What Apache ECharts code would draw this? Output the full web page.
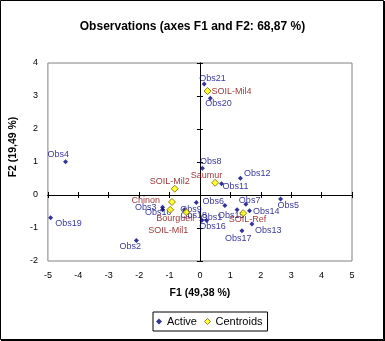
<!DOCTYPE html>
<html>
<head>
<meta charset="utf-8">
<script src="https://cdn.jsdelivr.net/npm/echarts@6/dist/echarts.min.js"></script>
<style>
  html, body { margin: 0; padding: 0; background: #fff; }
  #chart { width: 385px; height: 341px; }
</style>
</head>
<body>
<div id="chart"></div>
<script>
// Observation scores on the first two factors
const activeNames = ['Obs1','Obs2','Obs3','Obs4','Obs5','Obs6','Obs7','Obs8','Obs9','Obs10','Obs11',
                     'Obs12','Obs13','Obs14','Obs15','Obs16','Obs17','Obs18','Obs19','Obs20','Obs21'];
const activeF1 = [0.22,-2.09,-1.23,-4.42,2.65,0.82,1.51,0.08,-0.12,-1.23,0.71,
                  1.33,1.71,1.63,1.22,0.06,1.38,-0.51,-4.91,0.34,0.14];
const activeF2 = [-0.77,-1.38,-0.37,1.01,-0.12,-0.32,-0.28,0.81,-0.23,-0.45,0.34,
                  0.51,-0.88,-0.48,-0.45,-0.77,-1.08,-0.45,-0.69,2.93,3.36];

// Group centroids
const centroidNames = ['Saumur','Chinon','Bourgueil','SOIL-Mil1','SOIL-Mil2','SOIL-Mil4','SOIL-Ref'];
const centroidF1 = [0.50,-0.92,-0.98,-0.45,-0.83,0.25,1.42];
const centroidF2 = [0.37,-0.21,-0.45,-0.52,0.19,3.15,-0.55];

// Axis ranges
const f1Range = [-5, 5];
const f2Range = [-2, 4];

const titleText = 'Observations (axes F1 and F2: 68,87 %)';
const f1Name = 'F1 (49,38 %)';
const f2Name = 'F2 (19,49 %)';

// Label placement around each marker: [dx, dy, align]
const labelPlacement = {
  'Obs1': [-6, -3, 'left'], 'Obs2': [-17, 6, 'left'], 'Obs3': [-6, 0, 'right'],
  'Obs4': [-18, -7, 'left'], 'Obs5': [-3, 6.5, 'left'], 'Obs6': [-1, -4, 'right'],
  'Obs7': [-7, -3.5, 'left'], 'Obs8': [-2.5, -6.5, 'left'], 'Obs9': [-16, 7, 'left'],
  'Obs10': [-17.5, 3, 'left'], 'Obs11': [1, 3, 'left'], 'Obs12': [3.5, -4.5, 'left'],
  'Obs13': [3, 6, 'left'], 'Obs14': [3.5, 1, 'left'], 'Obs15': [-19, 5.5, 'left'],
  'Obs16': [-2.5, 6.5, 'left'], 'Obs17': [-17, 8, 'left'], 'Obs18': [-4, 6, 'left'],
  'Obs19': [4.5, 5.5, 'left'], 'Obs20': [-5, 5.5, 'left'], 'Obs21': [-5, -6, 'left'],
  'Saumur': [7, -7, 'right'], 'Chinon': [-12, -1.5, 'right'], 'Bourgueil': [-14, 9, 'left'],
  'SOIL-Mil1': [-38, 18, 'left'], 'SOIL-Mil2': [-25, -7, 'left'], 'SOIL-Mil4': [4, 0, 'left'],
  'SOIL-Ref': [-14.5, 6, 'left']
};

const FONT = "'Liberation Sans', Arial, sans-serif";
const NAVY = '#000080';
const MAROON = '#800000';
const YELLOW = '#ffff00';
const YELLOW_EDGE = '#7a6000';

function buildPoints(names, xs, ys, color) {
  return names.map(function (n, i) {
    const p = labelPlacement[n] || [4, 0, 'left'];
    return {
      name: n,
      value: [xs[i], ys[i]],
      label: {
        show: true,
        formatter: n,
        position: 'inside',
        offset: [p[0], p[1]],
        align: p[2],
        verticalAlign: 'middle',
        color: color,
        fontFamily: FONT,
        fontSize: 9,
        textBorderWidth: 0
      }
    };
  });
}

const chart = echarts.init(document.getElementById('chart'), null, { renderer: 'canvas' });

// Zero-line axes: a pair per dimension so tick marks cross the line on both sides
function zeroX(inside) {
  return {
    type: 'value', min: f1Range[0], max: f1Range[1], interval: 1,
    axisLine: { show: true, onZero: true, lineStyle: { color: '#000', width: 1 } },
    axisTick: { show: true, inside: inside, length: 3, lineStyle: { color: '#000' } },
    axisLabel: { show: false }, splitLine: { show: false }
  };
}
function zeroY(inside) {
  return {
    type: 'value', min: f2Range[0], max: f2Range[1], interval: 1,
    axisLine: { show: true, onZero: true, lineStyle: { color: '#000', width: 1 } },
    axisTick: { show: true, inside: inside, length: 3, lineStyle: { color: '#000' } },
    axisLabel: { show: false }, splitLine: { show: false }
  };
}

chart.setOption({
  animation: false,
  backgroundColor: '#fff',
  title: {
    text: titleText,
    left: 'center',
    top: 16,
    textStyle: { fontFamily: FONT, fontSize: 12, fontWeight: 'bold', color: '#000' }
  },
  grid: {
    left: 43, top: 63, right: 33, bottom: 80,
    show: true, borderColor: '#808080', borderWidth: 1, backgroundColor: 'transparent'
  },
  xAxis: [
    {
      type: 'value', min: f1Range[0], max: f1Range[1], interval: 1, position: 'bottom',
      name: f1Name, nameLocation: 'middle', nameGap: 27,
      nameTextStyle: { fontFamily: FONT, fontSize: 10.5, fontWeight: 'bold', color: '#000' },
      axisLine: { show: false, onZero: false },
      axisTick: { show: false },
      axisLabel: { fontFamily: FONT, fontSize: 9, color: '#000', margin: 10 },
      splitLine: { show: false }
    },
    zeroX(true),
    zeroX(false)
  ],
  yAxis: [
    {
      type: 'value', min: f2Range[0], max: f2Range[1], interval: 1, position: 'left',
      name: f2Name, nameLocation: 'middle', nameGap: 22,
      nameTextStyle: { fontFamily: FONT, fontSize: 10.5, fontWeight: 'bold', color: '#000',
                       padding: [0, 0, 0, 30] },
      axisLine: { show: false, onZero: false },
      axisTick: { show: false },
      axisLabel: { fontFamily: FONT, fontSize: 9, color: '#000', margin: 10 },
      splitLine: { show: false }
    },
    zeroY(true),
    zeroY(false)
  ],
  legend: {
    left: 153, top: 312,
    orient: 'horizontal',
    borderColor: '#000', borderWidth: 1,
    padding: [4, 5, 4, 3],
    itemWidth: 6, itemHeight: 6, itemGap: 7,
    textStyle: { fontFamily: FONT, fontSize: 11, color: '#000' },
    data: [
      { name: 'Active', icon: 'diamond', itemStyle: { color: NAVY } },
      { name: 'Centroids', icon: 'diamond', itemStyle: { color: YELLOW, borderColor: YELLOW_EDGE, borderWidth: 1 } }
    ]
  },
  graphic: [
    { type: 'rect', silent: true, shape: { x: 0.5, y: 0.5, width: 383, height: 339 },
      style: { fill: 'none', stroke: '#000', lineWidth: 1 } },
    { type: 'line', silent: true, shape: { x1: 384.5, y1: 1, x2: 384.5, y2: 341 },
      style: { stroke: '#000', lineWidth: 1 } },
    { type: 'line', silent: true, shape: { x1: 1, y1: 340.5, x2: 385, y2: 340.5 },
      style: { stroke: '#000', lineWidth: 1 } }
  ],
  series: [
    {
      name: 'Active', type: 'scatter', xAxisIndex: 0, yAxisIndex: 0,
      symbol: 'diamond', symbolSize: 5,
      itemStyle: { color: NAVY },
      data: buildPoints(activeNames, activeF1, activeF2, NAVY),
      z: 3
    },
    {
      name: 'Centroids', type: 'scatter', xAxisIndex: 0, yAxisIndex: 0,
      symbol: 'diamond', symbolSize: 7,
      itemStyle: { color: YELLOW, borderColor: YELLOW_EDGE, borderWidth: 1 },
      data: buildPoints(centroidNames, centroidF1, centroidF2, MAROON),
      z: 4
    }
  ]
});
</script>
</body>
</html>
